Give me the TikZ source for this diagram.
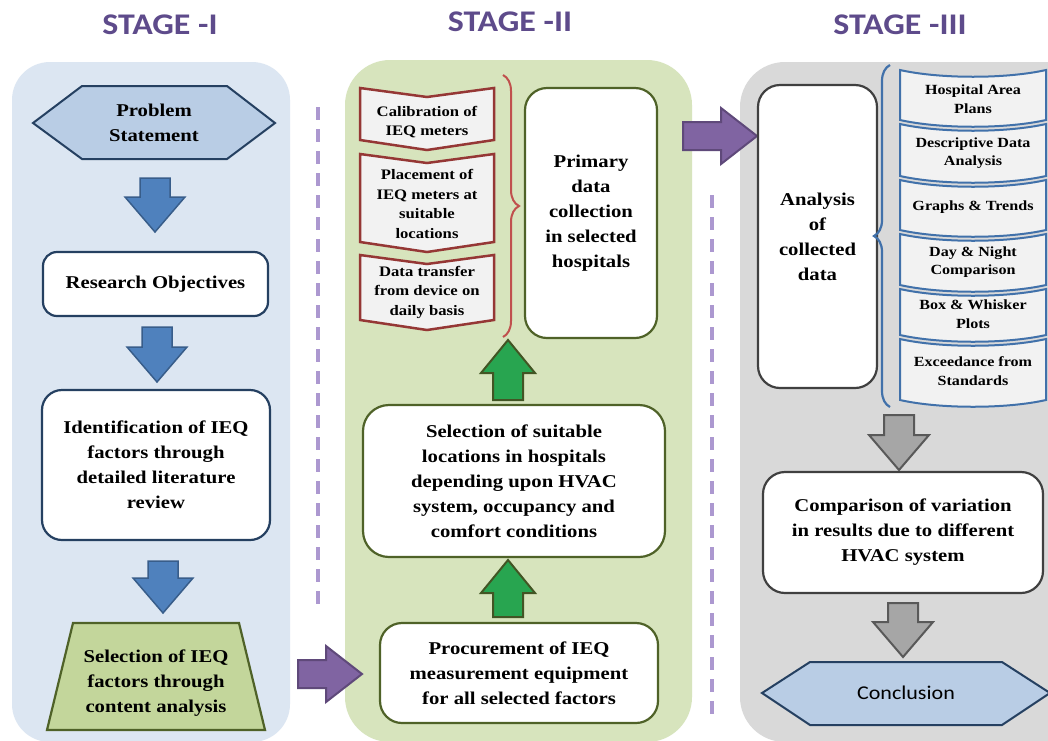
\documentclass[tikz,border=0pt]{standalone}
\usepackage{fontspec}
\setmainfont{Liberation Serif}[FakeStretch=1.15]
\newfontfamily\stagefont{Carlito}[FakeStretch=1.13]
\usetikzlibrary{decorations.pathreplacing}

\definecolor{stagetxt}{RGB}{94,75,139}
\definecolor{paneloneC}{RGB}{220,230,242}
\definecolor{paneltwoC}{RGB}{215,228,189}
\definecolor{panelthreeC}{RGB}{217,217,217}
\definecolor{navyC}{RGB}{37,64,97}
\definecolor{hexC}{RGB}{185,205,229}
\definecolor{oliveC}{RGB}{195,214,155}
\definecolor{olivelineC}{RGB}{79,98,40}
\definecolor{chevC}{RGB}{242,242,242}
\definecolor{chevlineC}{RGB}{149,55,53}
\definecolor{braceredC}{RGB}{192,80,77}
\definecolor{blueC}{RGB}{79,129,189}
\definecolor{bluelineC}{RGB}{56,93,138}
\definecolor{greenC}{RGB}{40,165,80}
\definecolor{greenlineC}{RGB}{66,85,36}
\definecolor{purpleC}{RGB}{128,100,162}
\definecolor{purplelineC}{RGB}{95,73,122}
\definecolor{grayC}{RGB}{166,166,166}
\definecolor{graylineC}{RGB}{89,89,89}
\definecolor{scrolllineC}{RGB}{65,113,170}
\definecolor{dashC}{RGB}{172,152,208}

% block arrows: x, start, tip, style
\newcommand{\arrowdown}[4]{%
  \draw[#4] (#1-15,#2) -- (#1+15,#2) -- (#1+15,#3-35) -- (#1+30,#3-35) -- (#1,#3)
    -- (#1-30,#3-35) -- (#1-15,#3-35) -- cycle;}
\newcommand{\arrowup}[4]{%
  \draw[#4] (#1-15,#2) -- (#1+15,#2) -- (#1+15,#3+33) -- (#1+27,#3+33) -- (#1,#3)
    -- (#1-27,#3+33) -- (#1-15,#3+33) -- cycle;}
% left, tip, y, style
\newcommand{\arrowright}[4]{%
  \draw[#4] (#1,#3-14) -- (#2-36,#3-14) -- (#2-36,#3-28) -- (#2,#3)
    -- (#2-36,#3+28) -- (#2-36,#3+14) -- (#1,#3+14) -- cycle;}
% chevron: top, tip
\newcommand{\chevronbox}[2]{%
  \draw[chevbox] (360,#1) -- (427,#1+9) -- (494,#1) -- (494,#2-10) -- (427,#2)
    -- (360,#2-10) -- cycle;}
% scroll item: top, bottom
\newcommand{\scrollitem}[2]{%
  \draw[scrollbox] (900,#1) .. controls (940,#1+9) and (1006,#1+9) .. (1046,#1)
    -- (1046,#2) .. controls (1006,#2+9) and (940,#2+9) .. (900,#2) -- cycle;}

\begin{document}
\begin{tikzpicture}[x=1pt,y=-1pt]
\tikzset{every node/.style={align=center, inner sep=0pt},
  body/.style={font=\fontsize{18}{25}\selectfont\bfseries},
  small/.style={font=\fontsize{14.5}{19.5}\selectfont\bfseries},
  tiny/.style={font=\fontsize{14}{18.5}\selectfont\bfseries},
  stagetitle/.style={text=stagetxt, font=\stagefont\bfseries\fontsize{30}{36}\selectfont},
  bluebox/.style={body, draw=navyC, fill=white, line width=2.2pt, rounded corners=14pt},
  greenbox/.style={body, draw=olivelineC, fill=white, line width=2.2pt, rounded corners=22pt},
  graybox/.style={body, draw=black!75, fill=white, line width=2.2pt, rounded corners=22pt},
  hexline/.style={draw=navyC, fill=hexC, line width=2pt},
  chevbox/.style={draw=chevlineC, fill=chevC, line width=2.5pt},
  scrollbox/.style={draw=scrolllineC, fill=chevC, line width=2pt},
  bluearrow/.style={draw=bluelineC, fill=blueC, line width=1.5pt},
  greenarrow/.style={draw=greenlineC, fill=greenC, line width=2pt},
  purplearrow/.style={draw=purplelineC, fill=purpleC, line width=2pt},
  grayarrow/.style={draw=graylineC, fill=grayC, line width=2pt},
  divider/.style={dashC, line width=3.5pt, dash pattern=on 13pt off 9pt}}

\clip (0,0) rectangle (1048,740);
\fill[white] (0,0) rectangle (1048,740);

\fill[paneloneC, rounded corners=38pt] (12,62) rectangle (290,742);
\fill[paneltwoC, rounded corners=45pt] (345,60) rectangle (692,742);
\fill[panelthreeC, rounded corners=45pt] (740,62) rectangle (1100,742);

\draw[divider] (318,107) -- (318,608);
\draw[divider] (712,195) -- (712,720);

\node[stagetitle] (st1) at (160,25) {STAGE -I};
\node[stagetitle] (st2) at (510,22) {STAGE -II};
\node[stagetitle] (st3) at (900,25) {STAGE -III};

% stage I
\draw[hexline] (33,123) -- (82,86) -- (227,86) -- (275,123) -- (227,159) -- (82,159) -- cycle;
\node[body] (prob) at (154,123) {Problem\\Statement};
\arrowdown{155}{178}{232}{bluearrow}
\node[bluebox, minimum width=225pt, minimum height=64pt] (obj) at (155.5,284) {Research Objectives};
\arrowdown{157}{327}{382}{bluearrow}
\node[bluebox, rounded corners=20pt, minimum width=228pt, minimum height=150pt] (ident) at (156,465)
  {Identification of IEQ\\factors through\\detailed literature\\review};
\arrowdown{163}{561}{613}{bluearrow}
\draw[draw=olivelineC, fill=oliveC, line width=2.2pt] (73,623) -- (239,623) -- (265,730) -- (47,730) -- cycle;
\node[body] (selfac) at (156,683) {Selection of IEQ\\factors through\\content analysis};
\arrowright{298}{362}{674}{purplearrow}

% stage II
\chevronbox{88}{150}
\chevronbox{154}{252}
\chevronbox{255}{330}
\node[small] (calib) at (427,122) {Calibration of\\IEQ meters};
\node[small] (place) at (427,204) {Placement of\\IEQ meters at\\suitable\\locations};
\node[small] (transfer) at (427,292) {Data transfer\\from device on\\daily basis};
\draw[braceredC, line width=2pt, decorate, decoration={brace, amplitude=16pt}] (503,75) -- (503,337);
\node[greenbox, minimum width=132pt, minimum height=250pt] (primary) at (591,213)
  {Primary\\data\\collection\\in selected\\hospitals};
\arrowup{508}{400}{340}{greenarrow}
\node[greenbox, rounded corners=26pt, minimum width=302pt, minimum height=152pt] (locs) at (514,481)
  {Selection of suitable\\locations in hospitals\\depending upon HVAC\\system, occupancy and\\comfort conditions};
\arrowup{508}{617}{560}{greenarrow}
\node[greenbox, minimum width=278pt, minimum height=100pt] (procure) at (519,673)
  {Procurement of IEQ\\measurement equipment\\for all selected factors};
\arrowright{683}{757}{136}{purplearrow}

% stage III
\node[graybox, minimum width=119pt, minimum height=303pt] (analysis) at (817.5,236.5)
  {Analysis\\of\\collected\\data};
\draw[scrolllineC, line width=2.2pt, decorate, decoration={brace, amplitude=16pt}] (890,407) -- (890,65);
\scrollitem{70}{120}
\scrollitem{124}{176}
\scrollitem{180}{230}
\scrollitem{234}{285}
\scrollitem{289}{335}
\scrollitem{339}{400}
\node[tiny] (plans) at (973,99) {Hospital Area\\Plans};
\node[tiny] (descr) at (973,153) {Descriptive Data\\Analysis};
\node[tiny] (graphs) at (973,207) {Graphs \& Trends};
\node[tiny] (daynight) at (973,262) {Day \& Night\\Comparison};
\node[tiny] (boxplot) at (973,314) {Box \& Whisker\\Plots};
\node[tiny] (exceed) at (973,371) {Exceedance from\\Standards};
\arrowdown{899}{415}{470}{grayarrow}
\node[graybox, minimum width=280pt, minimum height=121pt] (compare) at (903,532.5)
  {Comparison of variation\\in results due to different\\HVAC system};
\arrowdown{903}{603}{657}{grayarrow}
\draw[hexline] (762,693) -- (810,662) -- (1002,662) -- (1050,693) -- (1002,725) -- (810,725) -- cycle;
\node[font=\stagefont\fontsize{19.5}{24}\selectfont, text=black] (concl) at (906,693) {Conclusion};
\end{tikzpicture}
\end{document}
